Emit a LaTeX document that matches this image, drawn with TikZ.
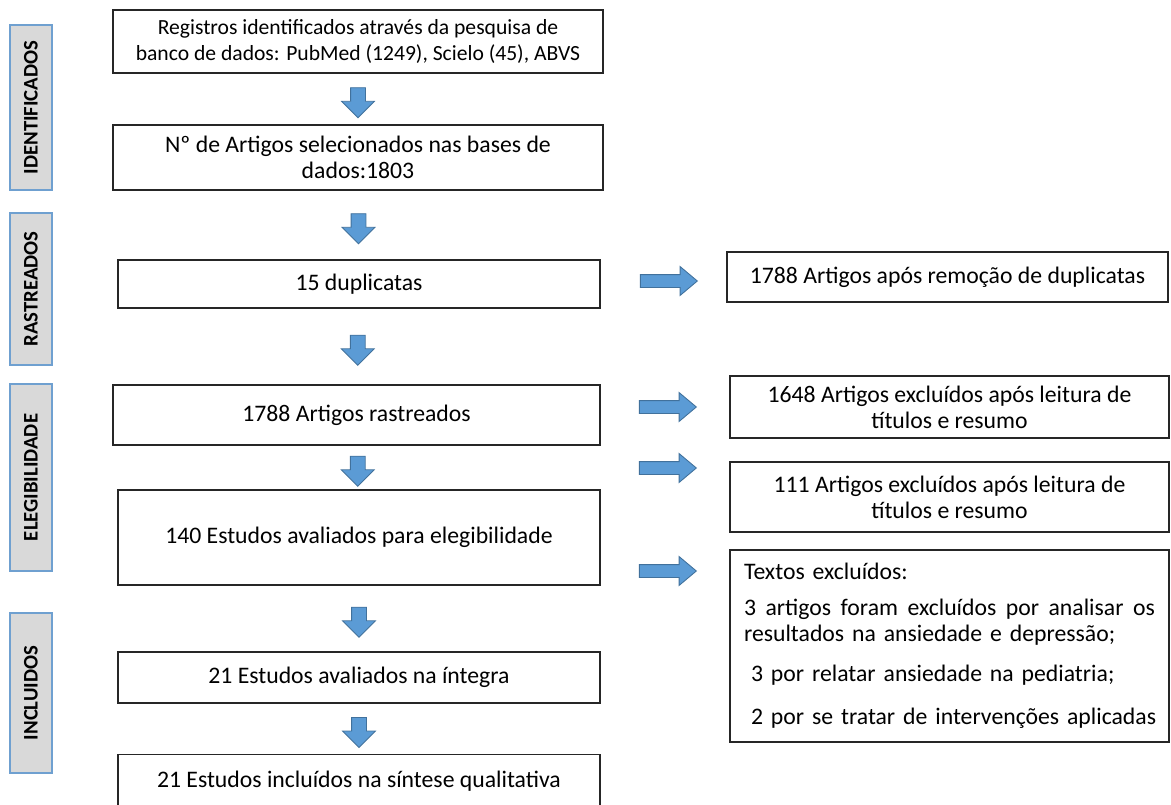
\documentclass[tikz,border=0pt]{standalone}
\usepackage{fontspec}
\setmainfont{Carlito}
\usetikzlibrary{shapes.arrows,calc}

\definecolor{flowblue}{HTML}{5B9BD5}
\definecolor{flowedge}{HTML}{41719C}
\definecolor{stagegray}{HTML}{D9D9D9}
\definecolor{stageline}{HTML}{6FA0D0}

\tikzset{
  flowbox/.style={draw=black!85, line width=0.8pt, align=center, inner sep=2pt,
    font=\fontsize{13.5}{14.8}\selectfont},
  stagebox/.style={draw=stageline, fill=stagegray, line width=1.1pt, rotate=90,
    minimum height=0.84cm, inner sep=0pt, font=\fontsize{11.8}{13}\selectfont\bfseries},
  downarr/.style={single arrow, draw=flowedge, fill=flowblue, line width=0.5pt,
    rotate=-90, minimum height=0.6cm, inner xsep=0pt, inner ysep=0.14cm,
    single arrow head extend=0.18cm},
  sidearr/.style={single arrow, draw=flowedge, fill=flowblue, line width=0.5pt,
    minimum height=1.14cm, inner xsep=0pt, inner ysep=0.12cm,
    single arrow head extend=0.16cm, single arrow tip angle=80}
}

\begin{document}
\begin{tikzpicture}[x=0.02cm, y=-0.02cm]
\useasboundingbox (0,0) rectangle (1171,805);
\clip (0,0) rectangle (1171,805);

% Etapas
\node[stagebox, minimum width=3.3cm] (ident) at (31,107.5) {IDENTIFICADOS};
\node[stagebox, minimum width=3.04cm] (rastr) at (31,289) {RASTREADOS};
\node[stagebox, minimum width=3.74cm] (eleg) at (31,477.5) {ELEGIBILIDADE};
\node[stagebox, minimum width=3.2cm] (incl) at (31,693) {INCLUIDOS};

% Caixas principais
\node[flowbox, minimum width=9.8cm, minimum height=1.26cm, font=\fontsize{12.3}{14.8}\selectfont] (reg) at (358,41.5)
  {Registros identificados através da pesquisa de\\banco de dados: PubMed (1249), Scielo (45), ABVS};
\node[flowbox, minimum width=9.8cm, minimum height=1.3cm] (sel) at (358,157.5)
  {Nº de Artigos selecionados nas bases de\\dados:1803};
\node[flowbox, minimum width=9.64cm, minimum height=0.96cm] (dup) at (359,284)
  {15 duplicatas};
\node[flowbox, minimum width=9.74cm, minimum height=1.2cm] (rast) at (356.5,415)
  {1788 Artigos rastreados};
\node[flowbox, minimum width=9.64cm, minimum height=1.9cm] (elig) at (359,537.5)
  {140 Estudos avaliados para elegibilidade};
\node[flowbox, minimum width=9.64cm, minimum height=1.02cm] (integ) at (359,677.5)
  {21 Estudos avaliados na íntegra};
\node[flowbox, minimum width=9.64cm, minimum height=1.06cm] (sint) at (359,781)
  {21 Estudos incluídos na síntese qualitativa};

% Caixas laterais
\node[flowbox, minimum width=8.82cm, minimum height=1cm] (rem) at (947.5,277)
  {1788 Artigos após remoção de duplicatas};
\node[flowbox, minimum width=8.78cm, minimum height=1.24cm] (exc1) at (949.5,407)
  {1648 Artigos excluídos após leitura de\\títulos e resumo};
\node[flowbox, minimum width=8.78cm, minimum height=1.4cm] (exc2) at (949.5,497)
  {111 Artigos excluídos após leitura de\\títulos e resumo};
\node[flowbox, minimum width=8.78cm, minimum height=3.84cm, text width=8.22cm, align=left] (txt) at (949.5,646)
  {Textos excluídos:\\[0.2cm]
   \leavevmode\hbox to 8.22cm{3 \hfill artigos \hfill foram \hfill excluídos \hfill por \hfill analisar \hfill os}\\
   resultados na ansiedade e depressão;\\[0.28cm]
   \hspace*{0.14cm}3 por relatar ansiedade na pediatria;\\[0.34cm]
   \hspace*{0.14cm}\hbox to 8.08cm{2 \hfill por \hfill se \hfill tratar \hfill de \hfill intervenções \hfill aplicadas}};

% Setas
\foreach \a/\b in {reg/sel, sel/dup, dup/rast, rast/elig, elig/integ, integ/sint}
  \node[downarr] (arr-\a) at ($(\a.south)!0.5!(\b.north)$) {};
\node[sidearr] (arr-rem) at (665,281) {};
\node[sidearr] (arr-exc1) at (664,407) {};
\node[sidearr] (arr-exc2) at (664,468) {};
\node[sidearr] (arr-txt) at (664,571) {};
\end{tikzpicture}
\end{document}
